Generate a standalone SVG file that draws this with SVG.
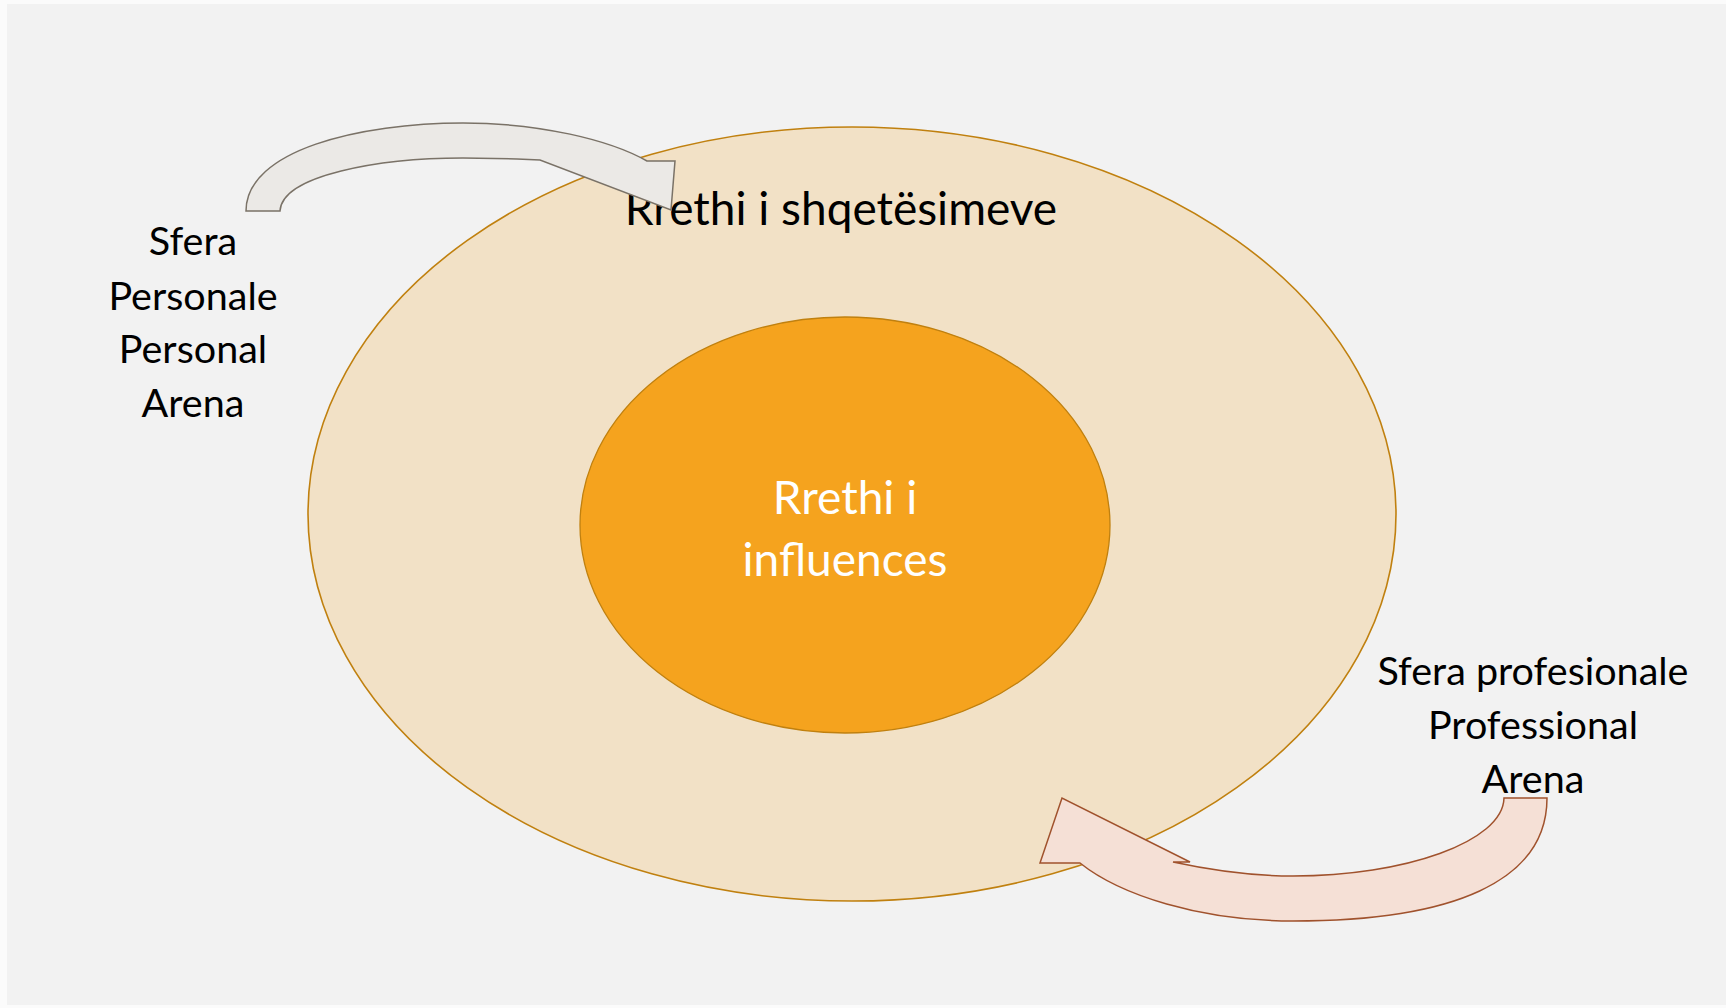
<svg xmlns="http://www.w3.org/2000/svg" width="1726" height="1008" viewBox="0 0 1726 1008">
<style>
.t{font-family:Lato,"Open Sans","Liberation Sans",sans-serif;text-anchor:middle;fill:#000}
.big{font-size:46px}
.lbl{font-size:39.5px}
.w{fill:#fff}
</style>
<rect x="0" y="0" width="1726" height="1008" fill="#fbfbfb"/>
<rect x="7" y="4" width="1719" height="1001" fill="#f2f2f2"/>
<g id="outer-circle">
<ellipse cx="852" cy="514" rx="544" ry="387" fill="#f2e1c6" stroke="#c0800f" stroke-width="1.6"/>
<text class="t big" x="841" y="225">Rrethi i shqetësimeve</text>
</g>
<g id="inner-circle">
<ellipse cx="845" cy="525" rx="265" ry="208" fill="#f5a31e" stroke="#c0800f" stroke-width="1.3"/>
<text class="t big w" x="845" y="514">Rrethi i</text>
<text class="t big w" x="845" y="576">influences</text>
</g>
<g id="connectors">
<path id="arrow-personal" d="M246,211 C246,150 360,123 463,123 C540,123 610,140 647,161 L675,161 L671,210 L540,160 L517,159 L463,158 C380,158 282,175 280,211 Z" fill="#ebe9e6" stroke="#7a7267" stroke-width="1.5" stroke-linejoin="miter"/>
<path id="arrow-professional" d="M1547,798 C1547,882 1452,921 1293,921 C1200,921 1120,895 1080,863 L1040,863 L1062,798 L1190,862 L1173,862 C1210,870 1250,876 1293,876 C1404,876 1503,842 1504,798 Z" fill="#f5e0d6" stroke="#a0522d" stroke-width="1.5"/>
</g>
<g id="label-personal">
<text class="t lbl" x="193" y="255">Sfera</text>
<text class="t lbl" x="193" y="310">Personale</text>
<text class="t lbl" x="193" y="363">Personal</text>
<text class="t lbl" x="193" y="417">Arena</text>
</g>
<g id="label-professional">
<text class="t lbl" x="1533" y="685">Sfera profesionale</text>
<text class="t lbl" x="1533" y="739">Professional</text>
<text class="t lbl" x="1533" y="793">Arena</text>
</g>
</svg>
